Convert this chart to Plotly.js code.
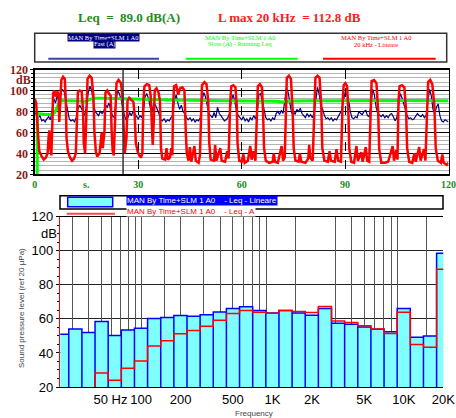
<!DOCTYPE html>
<html><head><meta charset="utf-8">
<script src="https://cdn.plot.ly/plotly-3.0.1.min.js"></script>
<style>html,body{margin:0;padding:0;background:#fff;}#chart{width:456px;height:418px;}</style>
</head><body><div id="chart"></div>
<script>
// ---------- top chart: time history ----------
const redTime = [0,0.4,0.9,1.3,2.0,2.6,3.2,3.7,4.0,4.2,4.5,4.8,
5.1,5.3,5.7,6.1,6.5,6.9,7.1,7.4,7.7,8.2,8.7,9.0,9.2,9.6,10.2,10.8,11.4,11.9,
12.2,12.5,13.0,13.6,14.0,14.2,14.6,15.0,15.3,15.9,16.5,17.0,17.3,17.7,18.1,18.8,19.1,19.4,19.7,
20.2,20.5,21.0,21.5,22.0,22.3,22.6,22.9,23.4,23.7,24.3,25.0,25.4,25.8,26.1,
26.6,26.9,27.4,28.0,28.6,29.0,29.3,29.8,30.3,30.8,31.2,
31.5,31.8,32.5,33.2,33.6,33.9,34.2,34.5,34.8,35.3,35.9,36.3,36.6,37.0,37.8,38.2,38.6,39.2,39.6,39.9,
40.1,40.4,41.0,41.6,42.1,42.8,43.4,43.8,44.1,44.6,45.0,45.4,46.3,46.7,47.5,47.9,
48.2,48.5,49.2,49.8,50.3,50.6,51.0,52.0,52.3,52.7,53.3,53.8,54.2,55.2,55.8,56.2,
56.7,57.0,57.6,58.2,58.6,58.8,59.3,60.0,60.5,60.9,61.8,62.5,62.9,63.4,64.0,
64.4,64.7,65.3,65.9,66.2,66.5,67.0,68.0,69.0,69.3,69.7,70.5,71.6,72.0,72.5,
72.8,73.1,73.7,74.3,74.8,75.1,75.6,76.5,76.9,77.3,78.5,79.3,79.6,79.9,80.6,
81.1,81.4,82.0,82.6,83.1,83.4,84.0,85.0,85.5,85.9,87.0,87.5,88.0,88.8,
89.3,89.6,90.1,90.6,91.0,91.2,91.8,92.6,93.3,93.7,94.7,95.1,96.0,96.4,97.0,
97.4,97.7,98.4,99.1,99.6,99.9,100.5,101.5,102.5,103.8,104.2,104.8,105.2,
105.5,105.8,106.5,107.2,107.7,108.0,108.6,109.5,110.1,110.5,111.5,111.9,112.9,113.3,
113.8,114.1,114.7,115.3,115.9,116.3,116.9,117.8,118.2,118.6,119.5,120];
const redLevel = [92,88,60,42,37,34,36,40,55,62,45,38,
70,97,100,94,99,96,70,90,110,113,111,90,55,42,36,33,35,40,
80,98,100,99,80,50,40,90,111,114,112,95,60,42,37,40,50,60,45,
60,98,100,97,95,60,42,38,80,107,110,107,95,60,40,
55,90,93,91,89,75,50,42,38,36,40,
90,104,106,105,95,60,48,70,100,102,98,90,45,35,34,45,34,36,45,38,
85,104,105,96,102,103,100,60,40,33,46,32,47,33,31,38,
85,105,108,106,90,50,34,33,48,33,40,45,33,32,42,35,
90,104,105,103,85,50,33,32,39,31,33,47,34,42,33,
85,104,106,103,80,45,33,31,32,40,32,31,47,33,36,
95,112,114,111,80,45,33,32,40,32,31,35,48,36,33,
95,112,114,112,85,45,33,32,42,33,32,44,33,32,
90,105,107,104,75,45,32,31,47,33,41,32,46,33,32,
95,109,110,107,80,44,31,31,32,47,33,43,34,
90,104,105,103,80,45,32,31,40,32,46,33,44,33,
95,108,110,106,85,45,33,31,39,31,29,31];
const fastStep = 0.5;
const fastLevel = [79,77,74,76,71,72,70,73,75,72,80,92,88,95,90,96,101,99,91,80,73,
71,72,70,74,82,86,83,80,76,85,98,104,100,88,80,78,76,80,78,80,
86,84,88,82,76,74,85,100,97,92,84,76,72,74,79,76,80,78,76,73,
76,74,80,94,97,92,84,80,88,86,82,78,72,71,73,70,72,71,74,76,
90,96,88,82,86,80,78,74,72,74,71,73,70,72,71,74,90,98,94,86,
78,76,74,79,74,84,78,76,73,71,72,74,78,90,96,90,80,76,74,72,
75,71,73,70,74,72,76,73,78,96,97,89,82,74,72,73,71,74,72,78,
80,77,81,78,90,103,98,86,78,80,77,82,80,83,78,76,74,78,75,77,
74,78,92,103,96,85,82,76,73,74,72,74,71,73,72,75,78,81,90,98,
96,92,80,74,73,75,74,80,78,77,80,81,76,75,86,101,96,84,78,76,
75,77,74,76,74,77,78,75,71,74,85,97,93,86,82,76,73,74,72,73,
75,78,76,75,77,74,76,90,101,95,82,78,84,87,76,71,70,72,71,70];
const leqTime = [0.7,0.75,1,3,5,5.8,6.5,7.2,8,10,14,15,16,17,20,25,30,40,50,60,70,72,74,80,90,100,110,120];
const leqLevel = [20,77,78,77,77,79,84,89,90.5,90.5,90.3,89.8,91.5,92.5,92.5,92,91.5,91,90.5,90.2,89.8,89,90,90.3,90.5,90.3,90.4,90.3];
const cursorTime = 25.6;
const timeTickVals = [0,30,60,90,120];
const timeTickText = ['0','30','60','90','120'];
const levelTickVals = [20,40,60,80,100,120];
const levelTickText = ['20','40','60','80','100','120'];

// ---------- bottom chart: 1/3 octave spectrum ----------
const bandCenters = [25,31.5,40,50,63,80,100,125,160,200,250,315,400,500,630,800,1000,1250,1600,2000,2500,3150,4000,5000,6300,8000,10000,12500,16000,20000];
const bandLinear = [51,54,52,58.5,50.2,53.5,54.5,60.2,60.8,62,61.6,62.4,64.1,66.1,67.1,64.9,63.5,64.9,63.5,62.2,66.1,57.5,56.9,55.3,53.9,52.4,66.1,49.2,50,98.5];
const bandA = [6,15,17,28.2,23.9,31,35.3,44.1,47.1,51.2,53.2,55.7,59.2,63.2,64.9,63.9,63.3,64.9,64.3,63.8,67.3,58.8,57.9,55.9,54.1,51.4,63.9,44.9,43.4,89.1];
const freqTickVals = [50,100,200,500,1000,2000,5000,10000,20000];
const freqTickText = ['\u00a0\u00a0\u00a0\u00a0\u00a050 Hz','100','200','500','1K','2K','5K','10K','20K'];
const freqGrid = [30,40,50,60,70,80,90,100,150,200,300,400,500,600,700,800,900,1500,3000,4000,5000,6000,7000,8000,9000,15000];

// ---------- build ----------
const W = 456, H = 418;
const px = v => v / W, py = v => 1 - v / H;
const fastTime = fastLevel.map((_, i) => i * fastStep);

const exactC = bandCenters.map(f => Math.pow(10, Math.round(10 * Math.log10(f)) / 10));
const lo = exactC.map(c => c * Math.pow(10, -0.05));
const hi = exactC.map(c => c * Math.pow(10, 0.05));
const barX = [], barY = [];
bandLinear.forEach((v, i) => { barX.push(lo[i], lo[i], hi[i], hi[i]); barY.push(0, v, v, 0); });
const stepX = lo.concat([hi[hi.length - 1]]);
const stepY = bandA.concat([bandA[bandA.length - 1]]);

const serif = 'Liberation Serif, Times New Roman, serif';
const sans = 'Liberation Sans, Arial, sans-serif';
const green = '#228b22';

const traces = [
  {x: fastTime, y: fastLevel, type: 'scatter', mode: 'lines', line: {color: '#000080', width: 1.2}, xaxis: 'x', yaxis: 'y', hoverinfo: 'skip'},
  {x: leqTime, y: leqLevel, type: 'scatter', mode: 'lines', line: {color: '#00ff00', width: 3}, xaxis: 'x', yaxis: 'y', hoverinfo: 'skip'},
  {x: redTime, y: redLevel, type: 'scatter', mode: 'lines', line: {color: '#ff0000', width: 2.5}, xaxis: 'x', yaxis: 'y', hoverinfo: 'skip'},
  {x: barX, y: barY, type: 'scatter', mode: 'lines', fill: 'toself', fillcolor: '#80ffff', line: {color: '#0000ff', width: 1.5}, xaxis: 'x2', yaxis: 'y2', hoverinfo: 'skip'},
  {x: stepX, y: stepY, type: 'scatter', mode: 'lines', line: {color: '#ff0000', width: 1.5, shape: 'hv'}, xaxis: 'x2', yaxis: 'y2', hoverinfo: 'skip'},
  {x: [], y: [], type: 'scatter', xaxis: 'x3', yaxis: 'y2', hoverinfo: 'skip'}
];

const topX = [px(34.8), px(448.5)], topY = [py(174.3), py(69.5)];
const botX = [px(60.3), px(443.3)], botY = [py(387), py(216.7)];
const logRange = [Math.log10(24.3), Math.log10(20000)];

const ann = (o) => Object.assign({xref: 'paper', yref: 'paper', xanchor: 'center', yanchor: 'middle', showarrow: false, borderpad: 0}, o);
const annotations = [
  ann({x: px(129), y: py(17), text: '<b>Leq\u00a0 =\u00a0 89.0 dB(A)</b>', font: {family: serif, size: 13, color: green}}),
  ann({x: px(289), y: py(17), text: '<b>L max 20 kHz\u00a0 = 112.8 dB</b>', font: {family: serif, size: 13, color: '#ff1a1a'}}),
  ann({x: px(103), y: py(37.5), text: 'MAN By Time+SLM 1 A0', bgcolor: '#000080', font: {family: serif, size: 6.5, color: '#ffffff'}}),
  ann({x: px(104.5), y: py(44), text: 'Fast (A)', bgcolor: '#000080', font: {family: serif, size: 6.5, color: '#ffffff'}}),
  ann({x: px(240), y: py(37.5), text: 'MAN By Time+SLM 1 A0', font: {family: serif, size: 6.5, color: '#00ff00'}}),
  ann({x: px(240), y: py(44), text: 'Slow (A) - Running Leq', font: {family: serif, size: 6.5, color: '#00ff00'}}),
  ann({x: px(376), y: py(37.5), text: 'MAN By Time+SLM 1 A0', font: {family: serif, size: 6.5, color: '#ff0000'}}),
  ann({x: px(376), y: py(44), text: '20 kHz - Lineare', font: {family: serif, size: 6.5, color: '#ff0000'}}),
  ann({x: px(31.5), xanchor: 'right', yref: 'y', y: 110, text: '<b>dB</b>', font: {family: serif, size: 12, color: '#8b1a1a'}}),
  ann({xref: 'x', x: 15, y: py(184), text: '<b>s.</b>', font: {family: serif, size: 10, color: green}}),
  ann({x: px(126), xanchor: 'left', y: py(200.2), text: 'MAN By Time+SLM 1 A0\u00a0\u00a0\u00a0\u00a0- Leq - Lineare', bgcolor: '#0000ff', font: {family: sans, size: 8, color: '#ffffff'}}),
  ann({x: px(126), xanchor: 'left', y: py(211.7), text: 'MAN By Time+SLM 1 A0\u00a0\u00a0\u00a0\u00a0- Leq - A', bgcolor: '#ffffff', font: {family: sans, size: 8, color: '#ff0000'}}),
  ann({x: px(57.5), xanchor: 'right', yref: 'y2', y: 110, text: 'dB', font: {family: sans, size: 13, color: '#000'}}),
  ann({x: px(21), y: py(308), textangle: -90, text: 'Sound pressure level (ref 20 µPa)', font: {family: sans, size: 8, color: '#444'}}),
  ann({x: px(254), y: py(413.5), text: 'Frequency', font: {family: sans, size: 8, color: '#444'}})
];

const shapes = [
  {type: 'rect', xref: 'paper', yref: 'paper', x0: px(34.7), x1: px(446.7), y0: py(62), y1: py(33.3), line: {color: '#333', width: 1.5}},
  {type: 'line', xref: 'paper', yref: 'paper', x0: px(48.3), x1: px(159), y0: py(58.7), y1: py(58.7), line: {color: '#3a44a0', width: 2}},
  {type: 'line', xref: 'paper', yref: 'paper', x0: px(185.7), x1: px(297.7), y0: py(58.7), y1: py(58.7), line: {color: '#00ff00', width: 2}},
  {type: 'line', xref: 'paper', yref: 'paper', x0: px(323), x1: px(435.7), y0: py(58.7), y1: py(58.7), line: {color: '#ff0000', width: 2}},
  {type: 'line', xref: 'x', yref: 'paper', x0: cursorTime, x1: cursorTime, y0: topY[0], y1: topY[1], line: {color: '#333', width: 1.5}},
  {type: 'rect', xref: 'paper', yref: 'paper', x0: px(60), x1: px(443), y0: py(209), y1: py(195.7), line: {color: '#000', width: 1.5}},
  {type: 'rect', xref: 'paper', yref: 'paper', x0: px(67.7), x1: px(112.7), y0: py(206.7), y1: py(197.3), fillcolor: '#80ffff', line: {color: '#0000ff', width: 1.5}},
  {type: 'line', xref: 'paper', yref: 'paper', x0: px(66.7), x1: px(115), y0: py(213.7), y1: py(213.7), line: {color: '#ff4a4a', width: 2}}
];

const layout = {
  width: W, height: H, margin: {l: 0, r: 0, t: 0, b: 0},
  paper_bgcolor: '#fff', plot_bgcolor: '#fff', showlegend: false,
  xaxis: {domain: topX, anchor: 'y', range: [0, 120], tickmode: 'array', tickvals: timeTickVals, ticktext: timeTickText,
    showgrid: true, gridcolor: '#000', griddash: 'dash', gridwidth: 1, zeroline: false,
    showline: true, linecolor: '#000', linewidth: 1.5, mirror: true, ticks: '',
    tickfont: {family: serif, size: 10, color: green, weight: 'bold'}},
  yaxis: {domain: topY, anchor: 'x', range: [20, 120], tickmode: 'array', tickvals: levelTickVals, ticktext: levelTickText,
    showgrid: true, gridcolor: '#000', gridwidth: 1, zeroline: false,
    showline: true, linecolor: '#000', linewidth: 1.5, mirror: true, ticks: 'outside', ticklen: 3, tickcolor: '#000',
    minor: {tickmode: 'linear', tick0: 20, dtick: 4, showgrid: true, gridcolor: '#b4b4b4', gridwidth: 1, ticks: 'outside', ticklen: 2, tickcolor: '#000'},
    tickfont: {family: serif, size: 12, color: '#8b1a1a', weight: 'bold'}},
  xaxis2: {domain: botX, anchor: 'y2', type: 'log', range: logRange, tickmode: 'array', tickvals: freqTickVals, ticktext: freqTickText,
    showgrid: false, zeroline: false, showline: true, linecolor: '#000', linewidth: 1, mirror: true, ticks: '',
    tickfont: {family: sans, size: 13, color: '#000'}},
  xaxis3: {overlaying: 'x2', anchor: 'y2', type: 'log', range: logRange, tickmode: 'array', tickvals: freqGrid,
    showticklabels: false, showgrid: true, gridcolor: '#555', gridwidth: 1, zeroline: false, showline: false, ticks: ''},
  yaxis2: {domain: botY, anchor: 'x2', range: [20, 120], tickmode: 'array', tickvals: levelTickVals, ticktext: levelTickText,
    showgrid: true, gridcolor: '#222', gridwidth: 1, zeroline: false,
    showline: true, linecolor: '#ff0000', linewidth: 1.5, ticks: 'outside', ticklen: 3, tickcolor: '#000',
    minor: {tickmode: 'linear', tick0: 20, dtick: 5, ticks: 'outside', ticklen: 2, tickcolor: '#000'},
    tickfont: {family: sans, size: 13, color: '#000'}},
  annotations: annotations, shapes: shapes
};

Plotly.newPlot('chart', traces, layout, {staticPlot: true, displayModeBar: false});
</script></body></html>
